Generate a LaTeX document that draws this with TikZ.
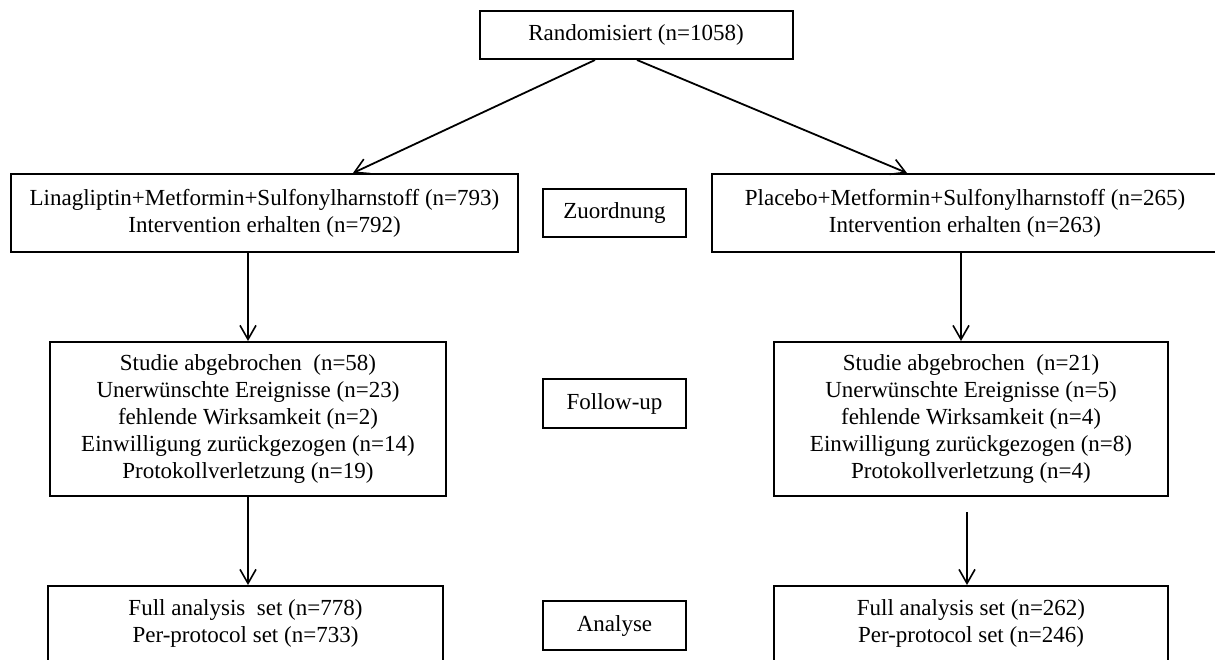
\documentclass[tikz,border=0pt]{standalone}
\usepackage{fontspec}
\setmainfont{Liberation Serif}
\usetikzlibrary{arrows.meta}
\begin{document}
\begin{tikzpicture}[
        x=1pt, y=-1pt,
        box/.style={draw, line width=2pt, inner sep=0, align=center,
            font=\fontsize{23}{27}\selectfont},
        flow/.style={line width=1.8pt, -{Straight Barb[length=14pt, width=16pt, line width=1.6pt]}}
    ]
    \useasboundingbox (0, 0) rectangle (1215, 660);
    % top
    \node[box, minimum width=313pt, minimum height=48pt] (rand) at (636, 35) {Randomisiert (n=1058)};
    % Zuordnung
    \node[box, minimum width=507pt, minimum height=78pt] (linaArm) at (264.5, 213)
        {Linagliptin+Metformin+Sulfonylharnstoff (n=793)\\Intervention erhalten (n=792)};
    \node[box, minimum width=143pt, minimum height=48pt] (zuord) at (614.5, 213) {Zuordnung};
    \node[box, minimum width=506pt, minimum height=78pt] (placArm) at (965, 213)
        {Placebo+Metformin+Sulfonylharnstoff (n=265)\\Intervention erhalten (n=263)};
    % Follow-up
    \node[box, minimum width=396pt, minimum height=154pt] (linaStop) at (248, 419)
        {Studie abgebrochen\ \ (n=58)\\Unerw\"unschte Ereignisse (n=23)\\fehlende Wirksamkeit (n=2)\\
         Einwilligung zur\"uckgezogen (n=14)\\Protokollverletzung (n=19)};
    \node[box, minimum width=143pt, minimum height=49pt] (follow) at (614.5, 403.5) {Follow-up};
    \node[box, minimum width=394pt, minimum height=154pt] (placStop) at (971, 419)
        {Studie abgebrochen\ \ (n=21)\\Unerw\"unschte Ereignisse (n=5)\\fehlende Wirksamkeit (n=4)\\
         Einwilligung zur\"uckgezogen (n=8)\\Protokollverletzung (n=4)};
    % Analyse
    \node[box, minimum width=395pt, minimum height=75pt] (linaSet) at (245.5, 623.5)
        {Full analysis\ \ set (n=778)\\Per-protocol set (n=733)};
    \node[box, minimum width=143pt, minimum height=49pt] (analyse) at (614.5, 625.5) {Analyse};
    \node[box, minimum width=394pt, minimum height=75pt] (placSet) at (971, 623.5)
        {Full analysis set (n=262)\\Per-protocol set (n=246)};
    % connectors
    \draw[flow] ([xshift=-41pt]rand.south) -- ([xshift=88.5pt]linaArm.north);
    \draw[flow] ([xshift=1pt]rand.south)   -- ([xshift=-58pt]placArm.north);
    \draw[flow] (linaArm.south -| linaStop.north) -- (linaStop.north);
    \draw[flow] ([xshift=-4pt]placArm.south) -- ([xshift=-10pt]placStop.north);
    \draw[flow] (linaStop.south) -- (linaStop.south |- linaSet.north);
    \draw[flow] ([xshift=-4pt, yshift=-15pt]placStop.south) -- ([xshift=-4pt]placSet.north);
\end{tikzpicture}
\end{document}
